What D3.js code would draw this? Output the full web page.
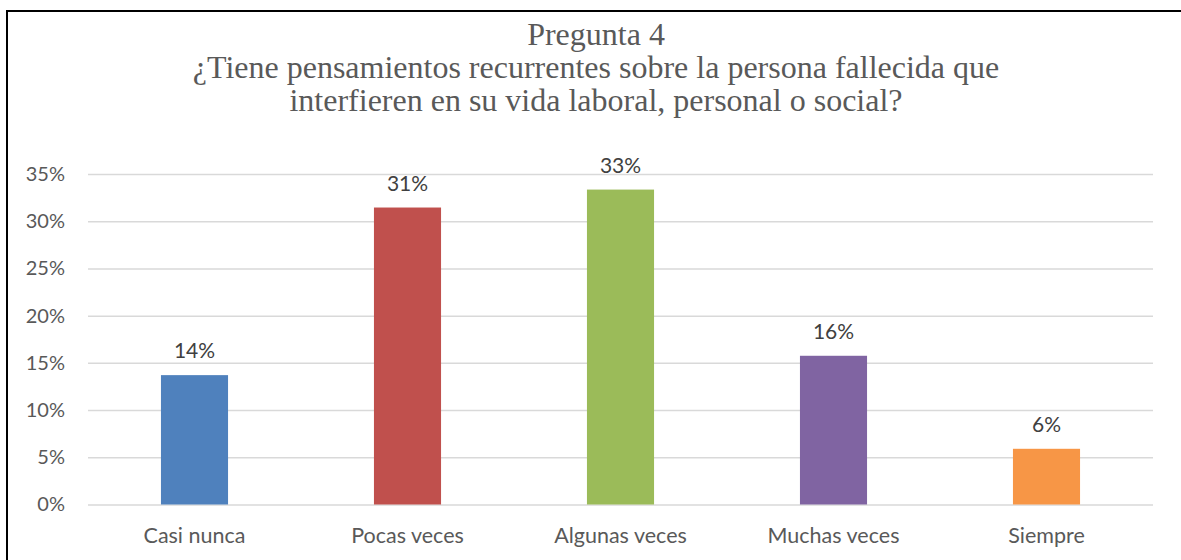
<!DOCTYPE html>
<html>
<head>
<meta charset="utf-8">
<script src="https://cdn.jsdelivr.net/npm/d3@7"></script>
<style>
  body { margin: 0; background: #fff; }
  svg { display: block; }
</style>
</head>
<body>
<svg width="1181" height="560"></svg>
<script>
const categories = ['Casi nunca', 'Pocas veces', 'Algunas veces', 'Muchas veces', 'Siempre'];
const values = [0.137, 0.3145, 0.3335, 0.1575, 0.059];
const labels = ['14%', '31%', '33%', '16%', '6%'];
const colors = ['#4F81BD', '#C0504D', '#9BBB59', '#8064A2', '#F79646'];
const yTicks = [0, 0.05, 0.10, 0.15, 0.20, 0.25, 0.30, 0.35];
const titleLines = [
  'Pregunta 4',
  '¿Tiene pensamientos recurrentes sobre la persona fallecida que',
  'interfieren en su vida laboral, personal o social?',
];

const svg = d3.select('svg');
const margin = { left: 88, right: 1153, top: 174, bottom: 504.5 };
const labelFont = 'Lato, "Open Sans", sans-serif';

// frame
svg.append('rect')
  .attr('x', 7).attr('y', 11)
  .attr('width', 1190).attr('height', 570)
  .attr('fill', 'none')
  .attr('stroke', '#000')
  .attr('stroke-width', 2);

// title
svg.append('g').selectAll('text')
  .data(titleLines)
  .join('text')
  .attr('x', 596)
  .attr('y', (d, i) => 45 + i * 33)
  .attr('text-anchor', 'middle')
  .attr('font-family', '"Liberation Serif", "Times New Roman", serif')
  .attr('font-size', 32)
  .attr('fill', '#595959')
  .text(d => d);

const x = d3.scaleBand()
  .domain(categories)
  .range([margin.left, margin.right])
  .paddingInner(0.685)
  .paddingOuter(0.3425);

const y = d3.scaleLinear()
  .domain([0, 0.35])
  .range([margin.bottom, margin.top]);

// gridlines
svg.append('g')
  .attr('transform', `translate(${margin.left},0)`)
  .call(d3.axisLeft(y)
    .tickValues(yTicks)
    .tickSize(-(margin.right - margin.left))
    .tickFormat(d3.format('.0%')))
  .call(g => g.select('.domain').remove())
  .call(g => g.selectAll('.tick line').attr('stroke', '#d9d9d9').attr('stroke-width', 1.5))
  .call(g => g.selectAll('.tick text')
    .attr('x', -23)
    .attr('font-family', labelFont)
    .attr('font-size', 20)
    .attr('fill', '#595959'));

// bars
svg.append('g').selectAll('rect')
  .data(values)
  .join('rect')
  .attr('x', (d, i) => x(categories[i]))
  .attr('y', d => y(d))
  .attr('width', x.bandwidth())
  .attr('height', d => y(0) - y(d))
  .attr('fill', (d, i) => colors[i]);

// data labels
svg.append('g').selectAll('text')
  .data(values)
  .join('text')
  .attr('x', (d, i) => x(categories[i]) + x.bandwidth() / 2)
  .attr('y', d => y(d) - 17)
  .attr('text-anchor', 'middle')
  .attr('font-family', labelFont)
  .attr('font-size', 21)
  .attr('fill', '#404040')
  .text((d, i) => labels[i]);

// category axis
svg.append('g')
  .attr('transform', `translate(0,${margin.bottom})`)
  .call(d3.axisBottom(x).tickSize(0).tickPadding(23))
  .call(g => g.select('.domain').remove())
  .call(g => g.selectAll('.tick text')
    .attr('font-family', labelFont)
    .attr('font-size', 21.5)
    .attr('fill', '#595959'));
</script>
</body>
</html>
